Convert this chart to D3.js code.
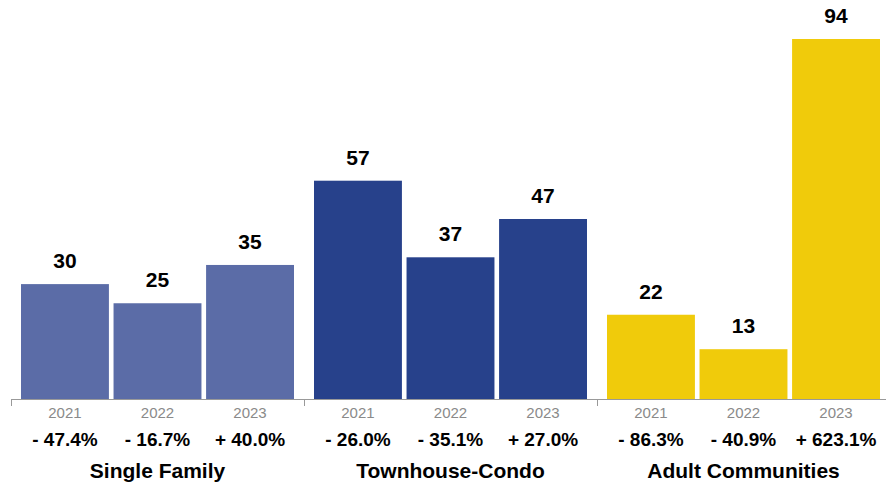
<!DOCTYPE html>
<html>
<head>
<meta charset="utf-8">
<script src="https://cdn.jsdelivr.net/npm/d3@7"></script>
<style>
  body { margin: 0; background: #fff; }
  svg text { font-family: "Liberation Sans", Arial, Helvetica, sans-serif; }
</style>
</head>
<body>
<script>
(function(){

//chart data
var groups = ["Single Family", "Townhouse-Condo", "Adult Communities"];
var years = ["2021", "2022", "2023"];
var singleFamily = [30, 25, 35];
var townhouseCondo = [57, 37, 47];
var adultCommunities = [22, 13, 94];
var pctSingleFamily = ["- 47.4%", "- 16.7%", "+ 40.0%"];
var pctTownhouse = ["- 26.0%", "- 35.1%", "+ 27.0%"];
var pctAdult = ["- 86.3%", "- 40.9%", "+ 623.1%"];
var groupColors = ["#5B6CA7", "#27418B", "#F0CB0B"];

var values = [singleFamily, townhouseCondo, adultCommunities];
var pcts = [pctSingleFamily, pctTownhouse, pctAdult];

window.onload = drawChart();

function drawChart(){
    var width = 886,
        height = 485,
        baseY = 399;

    var svg = d3.select("body")
        .append("svg")
        .attr("width", width)
        .attr("height", height);

    //outer scale for groups
    var x0 = d3.scaleBand()
        .domain(groups)
        .range([11, 890])
        .padding(0);

    //inner scale for years inside each group
    var x1 = d3.scaleBand()
        .domain(years)
        .range([10, 283])
        .paddingInner(0.05)
        .paddingOuter(0);

    var y = d3.scaleLinear()
        .domain([0, 94])
        .range([baseY, 39]);

    var g = svg.selectAll(".group")
        .data(groups)
        .enter()
        .append("g")
        .attr("class", "group")
        .attr("transform", function(d){ return "translate(" + x0(d) + ",0)"; });

    g.each(function(name, gi){
        var sel = d3.select(this);
        var rows = years.map(function(yr, i){
            return {year: yr, value: values[gi][i], pct: pcts[gi][i]};
        });

        sel.selectAll("rect")
            .data(rows)
            .enter()
            .append("rect")
            .attr("x", function(d){ return x1(d.year); })
            .attr("y", function(d){ return y(d.value); })
            .attr("width", x1.bandwidth())
            .attr("height", function(d){ return baseY - y(d.value); })
            .attr("fill", groupColors[gi]);

        //value labels
        sel.selectAll(".val")
            .data(rows)
            .enter()
            .append("text")
            .attr("class", "val")
            .attr("x", function(d){ return x1(d.year) + x1.bandwidth() / 2; })
            .attr("y", function(d){ return y(d.value) - 16; })
            .attr("text-anchor", "middle")
            .style("font-size", "21px")
            .style("font-weight", "bold")
            .attr("fill", "#000")
            .text(function(d){ return d.value; });

        //year labels
        sel.selectAll(".yr")
            .data(rows)
            .enter()
            .append("text")
            .attr("class", "yr")
            .attr("x", function(d){ return x1(d.year) + x1.bandwidth() / 2; })
            .attr("y", 418)
            .attr("text-anchor", "middle")
            .style("font-size", "15px")
            .attr("fill", "#8a8a8a")
            .text(function(d){ return d.year; });

        //percent change labels
        sel.selectAll(".pct")
            .data(rows)
            .enter()
            .append("text")
            .attr("class", "pct")
            .attr("x", function(d){ return x1(d.year) + x1.bandwidth() / 2; })
            .attr("y", 446)
            .attr("text-anchor", "middle")
            .style("font-size", "19px")
            .style("font-weight", "bold")
            .attr("fill", "#000")
            .text(function(d){ return d.pct; });

        //group name
        sel.append("text")
            .attr("x", x0.bandwidth() / 2)
            .attr("y", 478)
            .attr("text-anchor", "middle")
            .style("font-size", "21px")
            .style("font-weight", "bold")
            .attr("fill", "#000")
            .text(name);
    });

    //baseline axis with group separators
    var axis = d3.axisBottom(d3.scaleLinear().domain([0, 3]).range([11, 890]))
        .tickValues([0, 1, 2, 3])
        .tickSize(7)
        .tickFormat("");

    var ax = svg.append("g")
        .attr("transform", "translate(0," + baseY + ")")
        .call(axis);
    ax.select(".domain").attr("stroke", "#999").attr("d", "M11,0.5H890");
    ax.selectAll(".tick line").attr("stroke", "#999");
};

})();
</script>
</body>
</html>
